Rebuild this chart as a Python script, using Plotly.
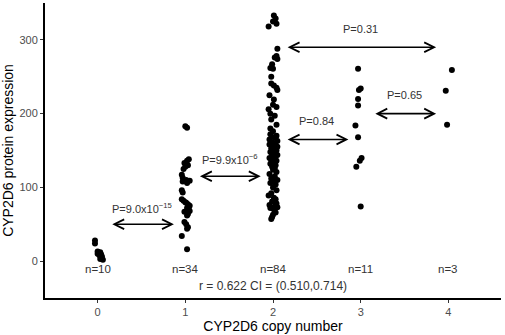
import plotly.graph_objects as go

# ---- data ----
copy_numbers = [0, 1, 2, 3, 4]
group_labels = ["n=10", "n=34", "n=84", "n=11", "n=3"]

g0_vals = [28, 24, 13, 12, 10, 9, 8, 6, 3, 2]
g0_jit = [-0.03, -0.03, 0.0, 0.03, 0.0, 0.04, 0.02, 0.05, 0.03, 0.06]

g1_vals = [183, 181, 138, 136, 133, 130, 128, 125, 117, 113, 110, 109, 108, 106,
           96, 93, 84, 82, 80, 79, 77, 75, 72, 70, 68, 67, 64, 62, 53, 50, 46, 44, 34, 16]
g1_jit = [0.0, 0.02, 0.04, 0.02, -0.01, 0.03, 0.0, -0.02, -0.04, -0.03, 0.01, 0.05, -0.03, 0.02,
          -0.04, -0.03, -0.04, -0.02, 0.0, 0.01, 0.03, 0.05, 0.02, 0.04, 0.05, -0.01, 0.03, 0.02,
          -0.01, 0.01, 0.03, 0.02, -0.04, 0.02]

g2_vals = [333, 329, 325, 322, 318,
           288, 278, 276, 274, 267, 262, 261, 250, 241, 238, 235, 232, 225, 219, 212, 209, 206,
           200, 197, 192, 185, 180, 176,
           172, 170, 168, 167, 165, 163, 161, 160, 158, 157, 156, 155, 153, 151, 150, 148, 147,
           145, 144, 143, 142, 140, 139, 137, 136, 134, 132, 130, 128, 126,
           124, 121, 118, 115, 112, 110, 108, 106, 104, 100, 96, 92, 89, 86, 84, 81, 78, 76,
           74, 73, 72, 70, 66, 63, 60, 57]
g2_jit = [0.01, 0.03, 0.0, 0.04, -0.05,
          0.05, 0.04, 0.02, 0.05, -0.01, -0.03, 0.0, -0.02, -0.02, 0.01, 0.04, 0.05, -0.04,
          0.01, 0.0, 0.04, -0.05, -0.03, 0.02, -0.02, 0.04, -0.03, 0.0,
          -0.03, 0.04, 0.01, 0.03, -0.04, 0.05, -0.01, 0.02, -0.04, 0.03, 0.0, 0.05, -0.02,
          0.01, 0.04, -0.03, 0.02, -0.01, 0.05, 0.0, 0.03, -0.04, 0.02, -0.02, 0.04, 0.0,
          -0.03, 0.03, -0.01, 0.02,
          0.0, 0.04, -0.04, 0.02, -0.02, 0.05, 0.01, -0.03, 0.03, 0.0, 0.04, -0.02, -0.05,
          0.01, 0.03, -0.01, 0.04, -0.04, 0.02, 0.05, -0.03, 0.01, 0.03, 0.0, -0.01, -0.02]

g3_vals = [261, 234, 232, 220, 211, 184, 168, 140, 136, 128, 74]
g3_jit = [-0.03, 0.0, -0.02, -0.03, -0.03, -0.06, -0.03, 0.01, -0.01, -0.05, 0.0]

g4_vals = [259, 231, 185]
g4_jit = [0.04, -0.03, -0.015]

# comparisons: (from, to, arrow y, label position, label)
comp_from = [0.15, 1.15, 2.15, 3.15, 2.15]
comp_to = [0.87, 1.86, 2.86, 3.86, 3.86]
comp_y = [50, 115, 165, 200, 290]
comp_label_x = [0.51, 1.51, 2.5, 3.5, 3.0]
comp_label_y = [72, 138, 190, 225, 315]
comp_labels = ["P=9.0x10<sup>\u221215</sup>", "P=9.9x10<sup>\u22126</sup>",
               "P=0.84", "P=0.65", "P=0.31"]

corr_text = "r = 0.622 CI = (0.510,0.714)"

# ---- figure ----
groups = [(g0_vals, g0_jit), (g1_vals, g1_jit), (g2_vals, g2_jit),
          (g3_vals, g3_jit), (g4_vals, g4_jit)]
xs, ys = [], []
for cn, (vals, jit) in zip(copy_numbers, groups):
    xs += [cn + j for j in jit]
    ys += vals

fig = go.Figure()
fig.add_trace(go.Scatter(x=xs, y=ys, mode="markers",
                         marker=dict(size=6, color="black"),
                         showlegend=False, hoverinfo="skip"))

font_fam = "Liberation Sans, Arial, sans-serif"
ann = []
for cn, lab in zip(copy_numbers, group_labels):
    ann.append(dict(x=cn, y=-10, text=lab, showarrow=False,
                    font=dict(size=11.5, color="#333333", family=font_fam)))
ann.append(dict(x=2, y=-34, text=corr_text, showarrow=False,
                font=dict(size=12, color="#333333", family=font_fam)))
for x0, x1, y, lx, ly, lab in zip(comp_from, comp_to, comp_y, comp_label_x,
                                  comp_label_y, comp_labels):
    ann.append(dict(x=x1, y=y, ax=x0, ay=y, xref="x", yref="y", axref="x", ayref="y",
                    text="", showarrow=True, arrowhead=5, startarrowhead=5,
                    arrowside="end+start", arrowsize=1.2, startarrowsize=1.2,
                    arrowwidth=1.6, arrowcolor="black"))
    ann.append(dict(x=lx, y=ly, text=lab, showarrow=False,
                    font=dict(size=11, color="#333333", family=font_fam)))

fig.update_layout(
    width=505, height=335,
    margin=dict(l=45, r=4, t=3, b=37),
    paper_bgcolor="white", plot_bgcolor="white",
    font=dict(family=font_fam, color="black"),
    annotations=ann,
    xaxis=dict(range=[-0.6, 4.6], tickvals=copy_numbers,
               ticktext=[str(c) for c in copy_numbers],
               showline=True, linecolor="black", linewidth=2,
               ticks="outside", ticklen=3, tickcolor="#333333", tickwidth=1,
               showgrid=False, zeroline=False,
               tickfont=dict(size=11, color="#4d4d4d"),
               title=dict(text="CYP2D6 copy number", font=dict(size=14, color="black"),
                          standoff=4)),
    yaxis=dict(range=[-50, 350], tickvals=[0, 100, 200, 300],
               showline=True, linecolor="black", linewidth=2,
               ticks="outside", ticklen=3, tickcolor="#333333", tickwidth=1,
               showgrid=False, zeroline=False,
               tickfont=dict(size=11, color="#4d4d4d"),
               title=dict(text="CYP2D6 protein expression", font=dict(size=14, color="black"),
                          standoff=5)),
)

fig.write_html("out.html", config={"displayModeBar": False},
               post_script="document.body.style.margin='0';")
